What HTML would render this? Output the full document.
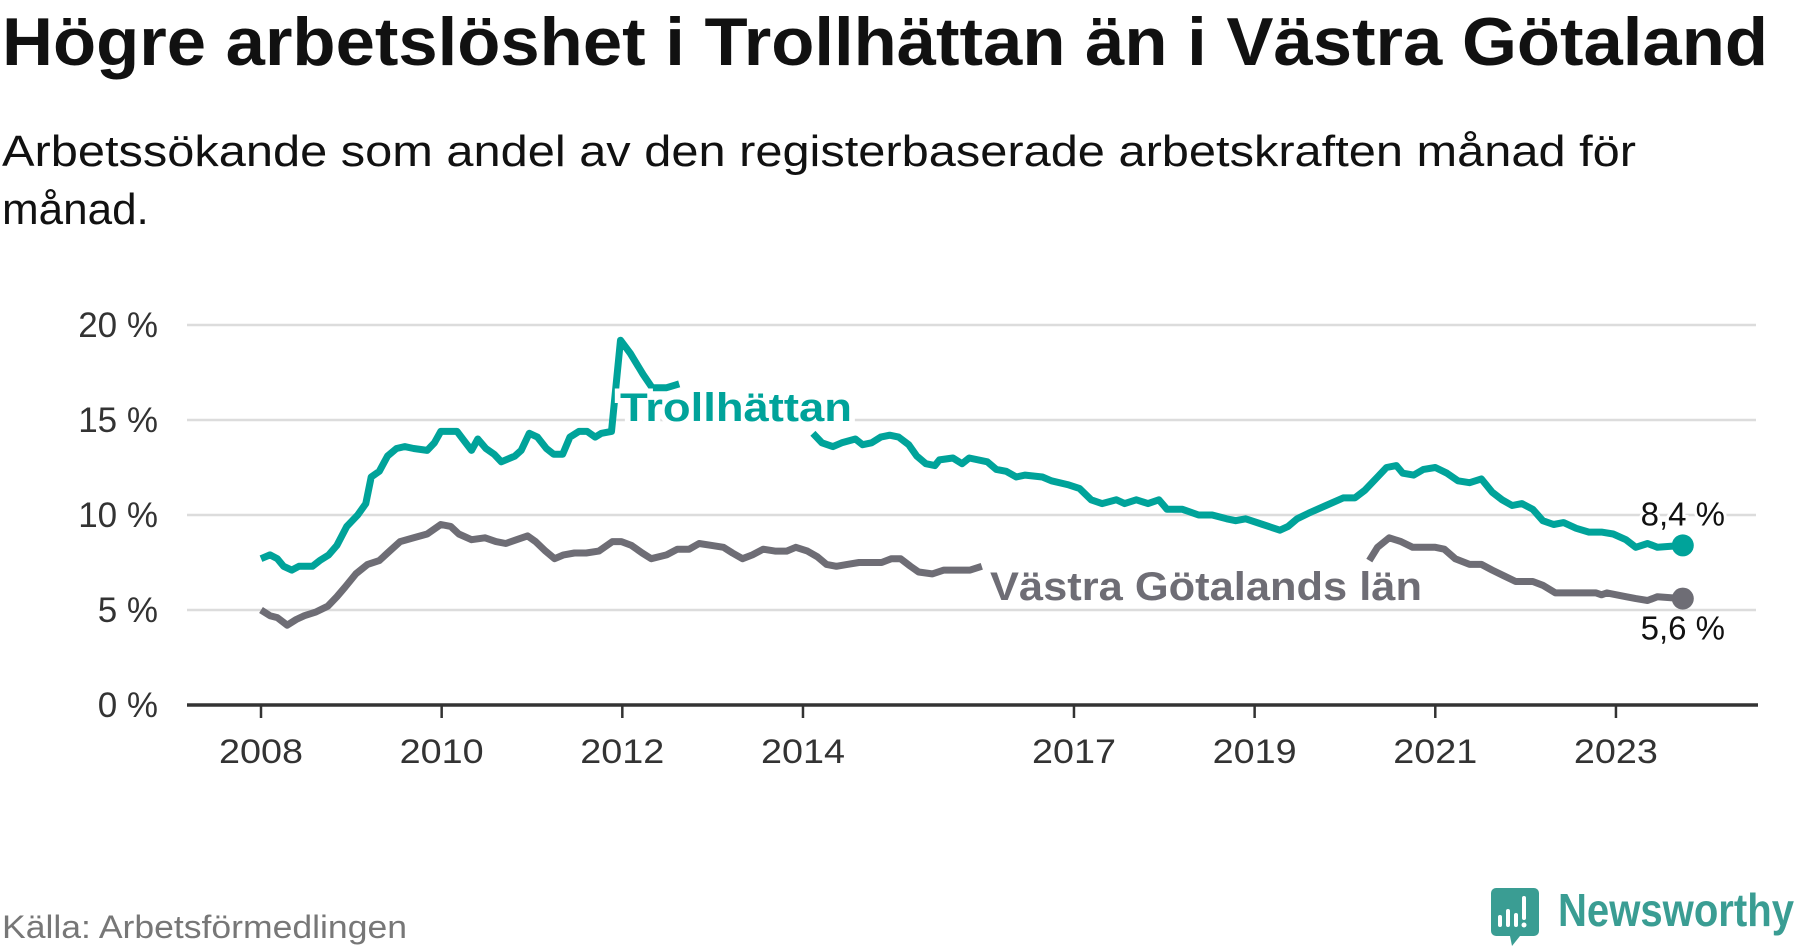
<!DOCTYPE html>
<html><head><meta charset="utf-8"><style>
html,body{margin:0;padding:0;background:#fff;}
svg{display:block;font-family:"Liberation Sans",sans-serif;}
</style></head><body>
<svg id="chart" width="1800" height="948" viewBox="0 0 1800 948">
<text x="2" y="65" font-size="68" font-weight="bold" fill="#111" textLength="1766" lengthAdjust="spacingAndGlyphs">Högre arbetslöshet i Trollhättan än i Västra Götaland</text>
<text x="2" y="166" font-size="44" fill="#111" textLength="1634" lengthAdjust="spacingAndGlyphs">Arbetssökande som andel av den registerbaserade arbetskraften månad för</text>
<text x="2" y="224" font-size="44" fill="#111">månad.</text>
<g id="grid"></g>
<g id="xaxis"></g>
<g id="lines"></g>
<text x="990" y="600" font-size="40" font-weight="bold" fill="#6e6d75" stroke="#fff" stroke-width="10" paint-order="stroke" textLength="432" lengthAdjust="spacingAndGlyphs">Västra Götalands län</text>
<text x="620" y="421" font-size="40" font-weight="bold" fill="#00a39a" stroke="#fff" stroke-width="10" paint-order="stroke" textLength="232" lengthAdjust="spacingAndGlyphs">Trollhättan</text>
<text x="2" y="938" font-size="32" fill="#777" textLength="405" lengthAdjust="spacingAndGlyphs">Källa: Arbetsförmedlingen</text>
<g>
<path d="M1496 888 h38 a5 5 0 0 1 5 5 v38 a5 5 0 0 1 -5 5 h-14 l-8 10 l-2 -10 h-14 a5 5 0 0 1 -5 -5 v-38 a5 5 0 0 1 5 -5z" fill="#3a9d93"/>
<rect x="1498" y="915" width="4" height="12" rx="2" fill="#fff"/>
<rect x="1506" y="909" width="4" height="18" rx="2" fill="#fff"/>
<rect x="1514" y="913" width="4" height="14" rx="2" fill="#fff"/>
<rect x="1522" y="896" width="4" height="24" rx="2" fill="#fff"/>
<circle cx="1524" cy="925" r="2.5" fill="#fff"/>
<text x="1558" y="926" font-size="46" font-weight="bold" fill="#3a9d93" textLength="236" lengthAdjust="spacingAndGlyphs">Newsworthy</text>
</g>
</svg>
<script>
const yTicks = [0, 5, 10, 15, 20];
const yTickLabels = ["0 %", "5 %", "10 %", "15 %", "20 %"];
const xTicks = [2008, 2010, 2012, 2014, 2017, 2019, 2021, 2023];
const xTickLabels = ["2008", "2010", "2012", "2014", "2017", "2019", "2021", "2023"];
const trollDates = [2008.00,2008.10,2008.18,2008.25,2008.34,2008.42,2008.57,2008.65,2008.75,2008.84,2008.95,2009.07,2009.16,2009.22,2009.31,2009.40,2009.50,2009.59,2009.69,2009.84,2009.92,2009.99,2010.17,2010.25,2010.33,2010.40,2010.49,2010.58,2010.66,2010.81,2010.88,2010.97,2011.06,2011.16,2011.24,2011.34,2011.42,2011.52,2011.61,2011.70,2011.77,2011.88,2011.98,2012.09,2012.23,2012.33,2012.49,2012.63,null,2014.11,2014.21,2014.33,2014.43,2014.58,2014.66,2014.76,2014.86,2014.96,2015.06,2015.17,2015.26,2015.36,2015.46,2015.51,2015.66,2015.76,2015.84,2016.04,2016.14,2016.25,2016.36,2016.46,2016.65,2016.75,2016.93,2017.06,2017.19,2017.31,2017.47,2017.56,2017.69,2017.82,2017.94,2018.03,2018.20,2018.38,2018.53,2018.69,2018.79,2018.90,2019.09,2019.28,2019.37,2019.47,2019.60,2019.79,2019.98,2020.11,2020.22,2020.36,2020.46,2020.57,2020.64,2020.76,2020.87,2021.00,2021.13,2021.25,2021.38,2021.51,2021.63,2021.74,2021.85,2021.96,2022.08,2022.19,2022.31,2022.42,2022.56,2022.70,2022.84,2022.97,2023.11,2023.22,2023.35,2023.46,2023.74];
const trollValues = [7.7,7.9,7.7,7.3,7.1,7.3,7.3,7.6,7.9,8.4,9.4,10.0,10.6,12.0,12.3,13.1,13.5,13.6,13.5,13.4,13.8,14.4,14.4,13.9,13.4,14.0,13.5,13.2,12.8,13.1,13.4,14.3,14.1,13.5,13.2,13.2,14.1,14.4,14.4,14.1,14.3,14.4,19.2,18.5,17.4,16.7,16.7,16.9,null,14.3,13.8,13.6,13.8,14.0,13.7,13.8,14.1,14.2,14.1,13.7,13.1,12.7,12.6,12.9,13.0,12.7,13.0,12.8,12.4,12.3,12.0,12.1,12.0,11.8,11.6,11.4,10.8,10.6,10.8,10.6,10.8,10.6,10.8,10.3,10.3,10.0,10.0,9.8,9.7,9.8,9.5,9.2,9.4,9.8,10.1,10.5,10.9,10.9,11.3,12.0,12.5,12.6,12.2,12.1,12.4,12.5,12.2,11.8,11.7,11.9,11.2,10.8,10.5,10.6,10.3,9.7,9.5,9.6,9.3,9.1,9.1,9.0,8.7,8.3,8.5,8.3,8.4];
const vgDates = [2008.00,2008.10,2008.18,2008.29,2008.39,2008.48,2008.61,2008.74,2008.84,2008.93,2009.05,2009.18,2009.31,2009.40,2009.54,2009.69,2009.84,2009.99,2010.10,2010.19,2010.33,2010.48,2010.60,2010.71,2010.83,2010.95,2011.04,2011.15,2011.25,2011.35,2011.47,2011.60,2011.74,2011.89,2011.99,2012.10,2012.22,2012.32,2012.49,2012.61,2012.74,2012.85,2012.99,2013.12,2013.22,2013.33,2013.44,2013.56,2013.69,2013.82,2013.92,2014.05,2014.16,2014.26,2014.37,2014.49,2014.62,2014.77,2014.87,2014.98,2015.08,2015.19,2015.28,2015.43,2015.56,2015.69,2015.85,2015.98,null,2020.27,2020.36,2020.49,2020.62,2020.75,2020.87,2021.00,2021.10,2021.22,2021.38,2021.51,2021.63,2021.76,2021.89,2022.08,2022.19,2022.33,2022.52,2022.78,2022.84,2022.90,2023.11,2023.22,2023.35,2023.46,2023.74];
const vgValues = [5.0,4.7,4.6,4.2,4.5,4.7,4.9,5.2,5.7,6.2,6.9,7.4,7.6,8.0,8.6,8.8,9.0,9.5,9.4,9.0,8.7,8.8,8.6,8.5,8.7,8.9,8.6,8.1,7.7,7.9,8.0,8.0,8.1,8.6,8.6,8.4,8.0,7.7,7.9,8.2,8.2,8.5,8.4,8.3,8.0,7.7,7.9,8.2,8.1,8.1,8.3,8.1,7.8,7.4,7.3,7.4,7.5,7.5,7.5,7.7,7.7,7.3,7.0,6.9,7.1,7.1,7.1,7.3,null,7.6,8.3,8.8,8.6,8.3,8.3,8.3,8.2,7.7,7.4,7.4,7.1,6.8,6.5,6.5,6.3,5.9,5.9,5.9,5.8,5.9,5.7,5.6,5.5,5.7,5.6];

const NS = "http://www.w3.org/2000/svg";
const X0 = 261, PXY = 90.33, Y0 = 705, PXV = 19.0;
function xs(t){ return X0 + (t - 2008) * PXY; }
function ys(v){ return Y0 - v * PXV; }
function mk(tag, attrs, parent){ const e = document.createElementNS(NS, tag); for (const k in attrs) e.setAttribute(k, attrs[k]); parent.appendChild(e); return e; }

const grid = document.getElementById('grid');
yTicks.forEach((v, i) => {
  if (v > 0) {
    const gl = mk('line', {x1:187, x2:1756, y1:ys(v), y2:ys(v), stroke:'#dcdcdc', 'stroke-width':2.5}, grid);
    
    
  }
  const t = mk('text', {x:158, y:ys(v)+12, 'text-anchor':'end', 'font-size':35, fill:'#333'}, grid);
  t.textContent = yTickLabels[i];
  
  
});
const xa = document.getElementById('xaxis');
const axis = mk('line', {x1:187, x2:1758, y1:Y0, y2:Y0, stroke:'#333', 'stroke-width':3.5}, xa);


xTicks.forEach((t, i) => {
  const tk = mk('line', {x1:xs(t), x2:xs(t), y1:Y0, y2:Y0+13, stroke:'#333', 'stroke-width':2.5}, xa);
  
  
  const lb = mk('text', {x:xs(t), y:763, 'text-anchor':'middle', 'font-size':34, fill:'#333', textLength:84, lengthAdjust:'spacingAndGlyphs'}, xa);
  lb.textContent = xTickLabels[i];
  
  
});

function pathFor(dates, vals){
  let d = '', pen = false;
  for (let i = 0; i < dates.length; i++) {
    if (dates[i] === null || vals[i] === null) { pen = false; continue; }
    d += (pen ? 'L' : 'M') + xs(dates[i]).toFixed(1) + ' ' + ys(vals[i]).toFixed(1);
    pen = true;
  }
  return d;
}
const lg = document.getElementById('lines');
const vgLine = mk('path', {d:pathFor(vgDates, vgValues), fill:'none', stroke:'#6e6d75', 'stroke-width':7, 'stroke-linejoin':'round'}, lg);


const trLine = mk('path', {d:pathFor(trollDates, trollValues), fill:'none', stroke:'#00a39a', 'stroke-width':7, 'stroke-linejoin':'round'}, lg);



const tl = trollDates.length - 1, vl = vgDates.length - 1;
const trDot = mk('circle', {cx:xs(trollDates[tl]), cy:ys(trollValues[tl]), r:11, fill:'#00a39a'}, lg);


const vgDot = mk('circle', {cx:xs(vgDates[vl]), cy:ys(vgValues[vl]), r:11, fill:'#6e6d75'}, lg);


const trVal = mk('text', {x:xs(trollDates[tl]), y:ys(trollValues[tl])-20, 'text-anchor':'middle', 'font-size':33, fill:'#111', stroke:'#fff', 'stroke-width':6, 'paint-order':'stroke'}, lg);
trVal.textContent = trollValues[tl].toFixed(1).replace('.', ',') + ' %';


const vgVal = mk('text', {x:xs(vgDates[vl]), y:ys(vgValues[vl])+41, 'text-anchor':'middle', 'font-size':33, fill:'#111', stroke:'#fff', 'stroke-width':6, 'paint-order':'stroke'}, lg);
vgVal.textContent = vgValues[vl].toFixed(1).replace('.', ',') + ' %';


</script>
</body></html>
